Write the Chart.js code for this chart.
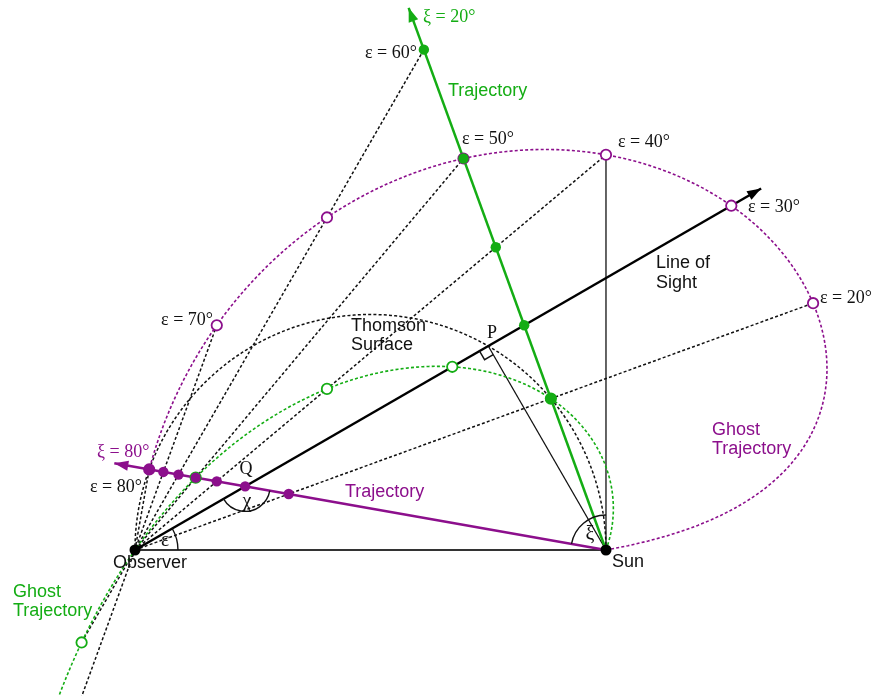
<!DOCTYPE html>
<html>
<head>
<meta charset="utf-8">
<script src="https://cdn.jsdelivr.net/npm/chart.js@4.4.0/dist/chart.umd.min.js"></script>
<style>
    html, body { margin: 0; padding: 0; background: #ffffff; }
    #wrap { width: 872px; height: 696px; }
</style>
</head>
<body>
<div id="wrap"><canvas id="geometryChart" width="872" height="696"></canvas></div>
<script>
// geometry inputs (distance unit = observer-sun distance)
const observer = [0, 0];
const sun = [1, 0];
const elongations = [20, 30, 40, 50, 60, 70, 80];
const lineOfSightEps = 30;
const lineOfSightLength = 1.535;
const trajectoryXi = [20, 80];
const trajectoryLength = [1.225, 1.06];
const ghostMaxEps = [72, 80];
const referenceTop = 0.84;

const GREEN = '#14ad14';
const PURPLE = '#8c0f8c';
const SERIF = '18px "Liberation Serif", "DejaVu Serif", serif';
const GREEK = '20px "Liberation Serif", "DejaVu Serif", serif';
const SANS = '18px "Liberation Sans", Arial, sans-serif';
const trajectoryColors = [GREEN, PURPLE];

const rad = function (d) { return d * Math.PI / 180; };

function trajectoryDir(xi) {
    const a = rad(90 + xi);
    return [Math.cos(a), Math.sin(a)];
}

// point where trajectory (from the sun) crosses the elongation line
function trajectoryHit(xi, eps) {
    const d = trajectoryDir(xi);
    const te = Math.tan(rad(eps));
    const t = sun[0] * te / (d[1] - d[0] * te);
    return { t: t, p: [sun[0] + d[0] * t, sun[1] + d[1] * t] };
}

// Thomson surface point for elongation eps
function thomsonPoint(eps) {
    const c = Math.cos(rad(eps)) * sun[0];
    return [c * Math.cos(rad(eps)), c * Math.sin(rad(eps))];
}

function ghostPoint(xi, eps) {
    const q = trajectoryHit(xi, eps).p;
    const p = thomsonPoint(eps);
    return [2 * p[0] - q[0], 2 * p[1] - q[1]];
}

function alongLine(eps, r) {
    return [observer[0] + r * Math.cos(rad(eps)), observer[1] + r * Math.sin(rad(eps))];
}

function toXY(points) {
    return points.map(function (p) { return { x: p[0], y: p[1] }; });
}

function lineSet(points, color, width, dash) {
    return {
        data: toXY(points),
        showLine: true,
        borderColor: color,
        borderWidth: width,
        borderDash: dash || [],
        pointRadius: 0,
        pointHoverRadius: 0,
        tension: 0,
        fill: false
    };
}

function markerSet(points, color, filled, radius) {
    return {
        data: toXY(points),
        showLine: false,
        pointRadius: radius,
        pointHoverRadius: radius,
        pointBackgroundColor: filled ? color : '#ffffff',
        pointBorderColor: color,
        pointBorderWidth: filled ? 0 : 1.8
    };
}

const datasets = [];
const DOT = [3, 2.2];

// observer - sun base line
datasets.push(lineSet([observer, sun], '#333333', 2));

// Thomson surface
const circle = [];
for (let a = 0; a <= 180; a += 1) {
    circle.push([0.5 * sun[0] + 0.5 * sun[0] * Math.cos(rad(a)), 0.5 * sun[0] * Math.sin(rad(a))]);
}
datasets.push(lineSet(circle, '#111111', 1.5, DOT));

// elongation lines
const realPoints = [[], []];
const ghostPoints = [[], []];
elongations.forEach(function (eps) {
    let rMin = 0;
    let rMax = 0;
    const ux = Math.cos(rad(eps));
    const uy = Math.sin(rad(eps));
    trajectoryXi.forEach(function (xi, k) {
        const hit = trajectoryHit(xi, eps);
        if (hit.t <= trajectoryLength[k]) {
            realPoints[k].push(hit.p);
            const r = hit.p[0] * ux + hit.p[1] * uy;
            rMin = Math.min(rMin, r);
            rMax = Math.max(rMax, r);
        }
        if (eps <= ghostMaxEps[k]) {
            const g = ghostPoint(xi, eps);
            ghostPoints[k].push(g);
            const r = g[0] * ux + g[1] * uy;
            rMin = Math.min(rMin, r);
            rMax = Math.max(rMax, r);
        }
    });
    if (eps !== lineOfSightEps) {
        datasets.push(lineSet([alongLine(eps, rMin), alongLine(eps, rMax)], '#111111', 1.5, DOT));
    }
});

// reference direction at the sun and perpendicular to the line of sight
datasets.push(lineSet([sun, [sun[0], referenceTop]], '#111111', 1.3));
const footP = thomsonPoint(lineOfSightEps);
datasets.push(lineSet([sun, footP], '#111111', 1.3));

// ghost trajectories
trajectoryXi.forEach(function (xi, k) {
    const pts = [];
    for (let e = 0; e <= ghostMaxEps[k] + 1e-9; e += 0.5) {
        pts.push(ghostPoint(xi, e));
    }
    datasets.push(lineSet(pts, trajectoryColors[k], 1.6, DOT));
});

// line of sight
const losEnd = alongLine(lineOfSightEps, lineOfSightLength);
datasets.push(lineSet([observer, losEnd], '#000000', 2.5));

// trajectories
const trajectoryEnds = trajectoryXi.map(function (xi, k) {
    const d = trajectoryDir(xi);
    return [sun[0] + d[0] * trajectoryLength[k], sun[1] + d[1] * trajectoryLength[k]];
});
trajectoryXi.forEach(function (xi, k) {
    datasets.push(lineSet([sun, trajectoryEnds[k]], trajectoryColors[k], 2.5));
});

// markers
trajectoryXi.forEach(function (xi, k) {
    datasets.push(markerSet(ghostPoints[k], trajectoryColors[k], false, 5.2));
});
trajectoryXi.forEach(function (xi, k) {
    datasets.push(markerSet(realPoints[k], trajectoryColors[k], true, 5.2));
});
datasets.push(markerSet([observer, sun], '#000000', true, 5.5));

datasets.forEach(function (ds, i) { ds.order = datasets.length - i; });

const labels = [
    { text: 'ξ = 20°', at: [0.6115, 1.1316], color: GREEN, font: SERIF },
    { text: 'Trajectory', at: [0.6645, 0.9745], color: GREEN, font: SANS },
    { text: 'ε = 60°', at: [0.5987, 1.0552], font: SERIF, align: 'right' },
    { text: 'ε = 50°', at: [0.6943, 0.8726], font: SERIF },
    { text: 'ε = 40°', at: [1.0255, 0.8662], font: SERIF },
    { text: 'ε = 30°', at: [1.3015, 0.7282], font: SERIF },
    { text: 'ε = 20°', at: [1.4544, 0.5350], font: SERIF },
    { text: 'ε = 70°', at: [0.1656, 0.4883], font: SERIF, align: 'right' },
    { text: 'ε = 80°', at: [0.0148, 0.1338], font: SERIF, align: 'right' },
    { text: 'ξ = 80°', at: [-0.0807, 0.2081], color: PURPLE, font: SERIF },
    { text: 'Line of', at: [1.1062, 0.6093], font: SANS },
    { text: 'Sight', at: [1.1062, 0.5669], font: SANS },
    { text: 'Thomson', at: [0.4586, 0.4756], font: SANS },
    { text: 'Surface', at: [0.4586, 0.4352], font: SANS },
    { text: 'P', at: [0.7580, 0.4607], font: SERIF, align: 'center' },
    { text: 'Ghost', at: [1.2251, 0.2548], color: PURPLE, font: SANS },
    { text: 'Trajectory', at: [1.2251, 0.2144], color: PURPLE, font: SANS },
    { text: 'Trajectory', at: [0.4459, 0.1231], color: PURPLE, font: SANS },
    { text: 'Observer', at: [-0.0467, -0.0276], font: SANS },
    { text: 'Sun', at: [1.0127, -0.0255], font: SANS },
    { text: 'Ghost', at: [-0.2590, -0.0892], color: GREEN, font: SANS },
    { text: 'Trajectory', at: [-0.2590, -0.1295], color: GREEN, font: SANS },
    { text: 'ε', at: [0.0640, 0.0202], font: GREEK, align: 'center' },
    { text: 'Q', at: [0.2357, 0.1720], font: SERIF, align: 'center' },
    { text: 'χ', at: [0.2378, 0.1020], font: GREEK, align: 'center' },
    { text: 'ξ', at: [0.9660, 0.0318], font: GREEK, align: 'center' }
];

function drawArrow(ctx, from, to, color) {
    const ang = Math.atan2(to[1] - from[1], to[0] - from[0]);
    const len = 14;
    const half = 5;
    ctx.save();
    ctx.fillStyle = color;
    ctx.beginPath();
    ctx.moveTo(to[0], to[1]);
    ctx.lineTo(to[0] - len * Math.cos(ang) + half * Math.sin(ang), to[1] - len * Math.sin(ang) - half * Math.cos(ang));
    ctx.lineTo(to[0] - len * Math.cos(ang) - half * Math.sin(ang), to[1] - len * Math.sin(ang) + half * Math.cos(ang));
    ctx.closePath();
    ctx.fill();
    ctx.restore();
}

const annotationPlugin = {
    id: 'geometryAnnotations',
    afterDatasetsDraw: function (chart) {
        const ctx = chart.ctx;
        const xs = chart.scales.x;
        const ys = chart.scales.y;
        const px = function (p) { return [xs.getPixelForValue(p[0]), ys.getPixelForValue(p[1])]; };

        // arrow heads
        drawArrow(ctx, px(observer), px(losEnd), '#000000');
        trajectoryEnds.forEach(function (end, k) {
            drawArrow(ctx, px(sun), px(end), trajectoryColors[k]);
        });

        ctx.save();
        ctx.strokeStyle = '#111111';
        ctx.lineWidth = 1.4;
        ctx.setLineDash([]);

        // angle arcs (canvas angles are mirrored)
        const o = px(observer);
        ctx.beginPath();
        ctx.arc(o[0], o[1], 43, -rad(lineOfSightEps), 0);
        ctx.stroke();

        const q = px(trajectoryHit(trajectoryXi[1], lineOfSightEps).p);
        const toSun = 90 + trajectoryXi[1] - 180;
        ctx.beginPath();
        ctx.arc(q[0], q[1], 25, -rad(360 + toSun), -rad(180 + lineOfSightEps));
        ctx.stroke();

        const s = px(sun);
        ctx.beginPath();
        ctx.arc(s[0], s[1], 35, -rad(90 + trajectoryXi[1]), -rad(90));
        ctx.stroke();

        // right angle at P
        const p = px(footP);
        const back = [Math.cos(rad(180 + lineOfSightEps)), -Math.sin(rad(180 + lineOfSightEps))];
        const dx = s[0] - p[0];
        const dy = s[1] - p[1];
        const dl = Math.hypot(dx, dy);
        const down = [dx / dl, dy / dl];
        const m = 10;
        ctx.beginPath();
        ctx.moveTo(p[0] + back[0] * m, p[1] + back[1] * m);
        ctx.lineTo(p[0] + back[0] * m + down[0] * m, p[1] + back[1] * m + down[1] * m);
        ctx.lineTo(p[0] + down[0] * m, p[1] + down[1] * m);
        ctx.stroke();

        // text
        ctx.textBaseline = 'middle';
        labels.forEach(function (lb) {
            const pos = px(lb.at);
            ctx.font = lb.font;
            ctx.fillStyle = lb.color || '#111111';
            ctx.textAlign = lb.align || 'left';
            ctx.fillText(lb.text, pos[0], pos[1]);
        });
        ctx.restore();
    }
};

new Chart(document.getElementById('geometryChart'), {
    type: 'scatter',
    data: { datasets: datasets },
    options: {
        responsive: false,
        animation: false,
        layout: { padding: 0, autoPadding: false },
        scales: {
            x: { type: 'linear', min: -0.2866, max: 1.5648, display: false },
            y: { type: 'linear', min: -0.3100, max: 1.1677, display: false }
        },
        plugins: {
            legend: { display: false },
            tooltip: { enabled: false }
        }
    },
    plugins: [annotationPlugin]
});
</script>
</body>
</html>
